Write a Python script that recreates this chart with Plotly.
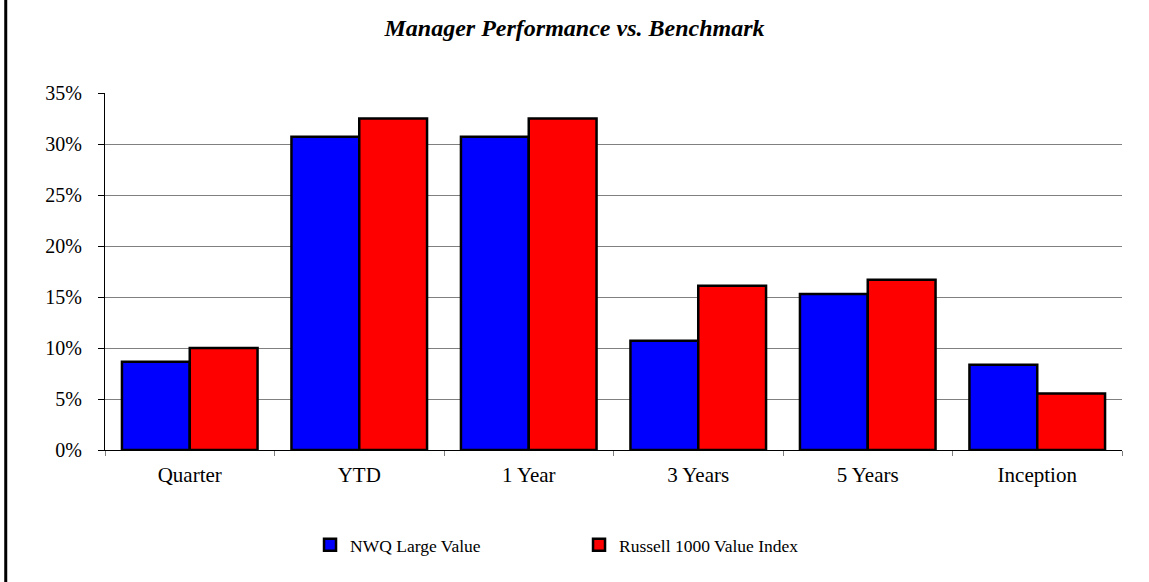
import plotly.graph_objects as go

categories = ["Quarter", "YTD", "1 Year", "3 Years", "5 Years", "Inception"]
nwq_values = [8.65, 30.7, 30.7, 10.7, 15.3, 8.35]
russell_values = [10.0, 32.5, 32.5, 16.1, 16.7, 5.55]
series_names = ["NWQ Large Value", "Russell 1000 Value Index"]
tick_values = [0, 5, 10, 15, 20, 25, 30, 35]
tick_labels = ["0%", "5%", "10%", "15%", "20%", "25%", "30%", "35%"]

FONT = "Liberation Serif, Times New Roman, serif"

fig = go.Figure()
fig.add_trace(go.Bar(
    x=categories, y=nwq_values, name=series_names[0],
    marker=dict(color="#0000FF", line=dict(color="#000000", width=2.5)),
))
fig.add_trace(go.Bar(
    x=categories, y=russell_values, name=series_names[1],
    marker=dict(color="#FF0000", line=dict(color="#000000", width=2.5)),
))

fig.update_layout(
    width=1149, height=582,
    paper_bgcolor="white", plot_bgcolor="white",
    margin=dict(l=105, r=27, t=93, b=132),
    barmode="group", bargap=0.2, bargroupgap=0,
    font=dict(family=FONT, color="black", size=20),
    title=dict(
        text="<b><i>Manager Performance vs. Benchmark</i></b>",
        x=0.5, xanchor="center", y=0.952, yanchor="middle",
        font=dict(family=FONT, size=24, color="black"),
    ),
    showlegend=True,
    legend=dict(
        orientation="h", x=0.2016, xanchor="left", y=-0.266, yanchor="middle",
        font=dict(family=FONT, size=17.5, color="black"),
        entrywidth=224, entrywidthmode="pixels",
        bgcolor="rgba(0,0,0,0)",
    ),
    shapes=[dict(type="line", xref="paper", yref="paper",
                 x0=-0.0976, x1=-0.0976, y0=-1, y1=2,
                 line=dict(color="black", width=3))],
)

fig.update_xaxes(
    showline=True, linecolor="black", linewidth=1,
    ticks="outside", tickson="boundaries", ticklen=5, tickcolor="#808080",
    tickfont=dict(family=FONT, size=21, color="black"),
    showgrid=False, mirror=False, fixedrange=True, ticklabelstandoff=6,
)
fig.update_yaxes(
    range=[0, 35], tickvals=tick_values, ticktext=tick_labels,
    showline=True, linecolor="black", linewidth=1,
    ticks="outside", ticklen=6, tickcolor="black",
    tickfont=dict(family=FONT, size=20, color="black"),
    showgrid=True, gridcolor="#808080", gridwidth=1,
    zeroline=False, ticklabelstandoff=12, fixedrange=True,
)

fig.write_html(
    "out.html",
    config={"displayModeBar": False},
    post_script="document.body.style.margin='0';document.body.style.padding='0';",
)
